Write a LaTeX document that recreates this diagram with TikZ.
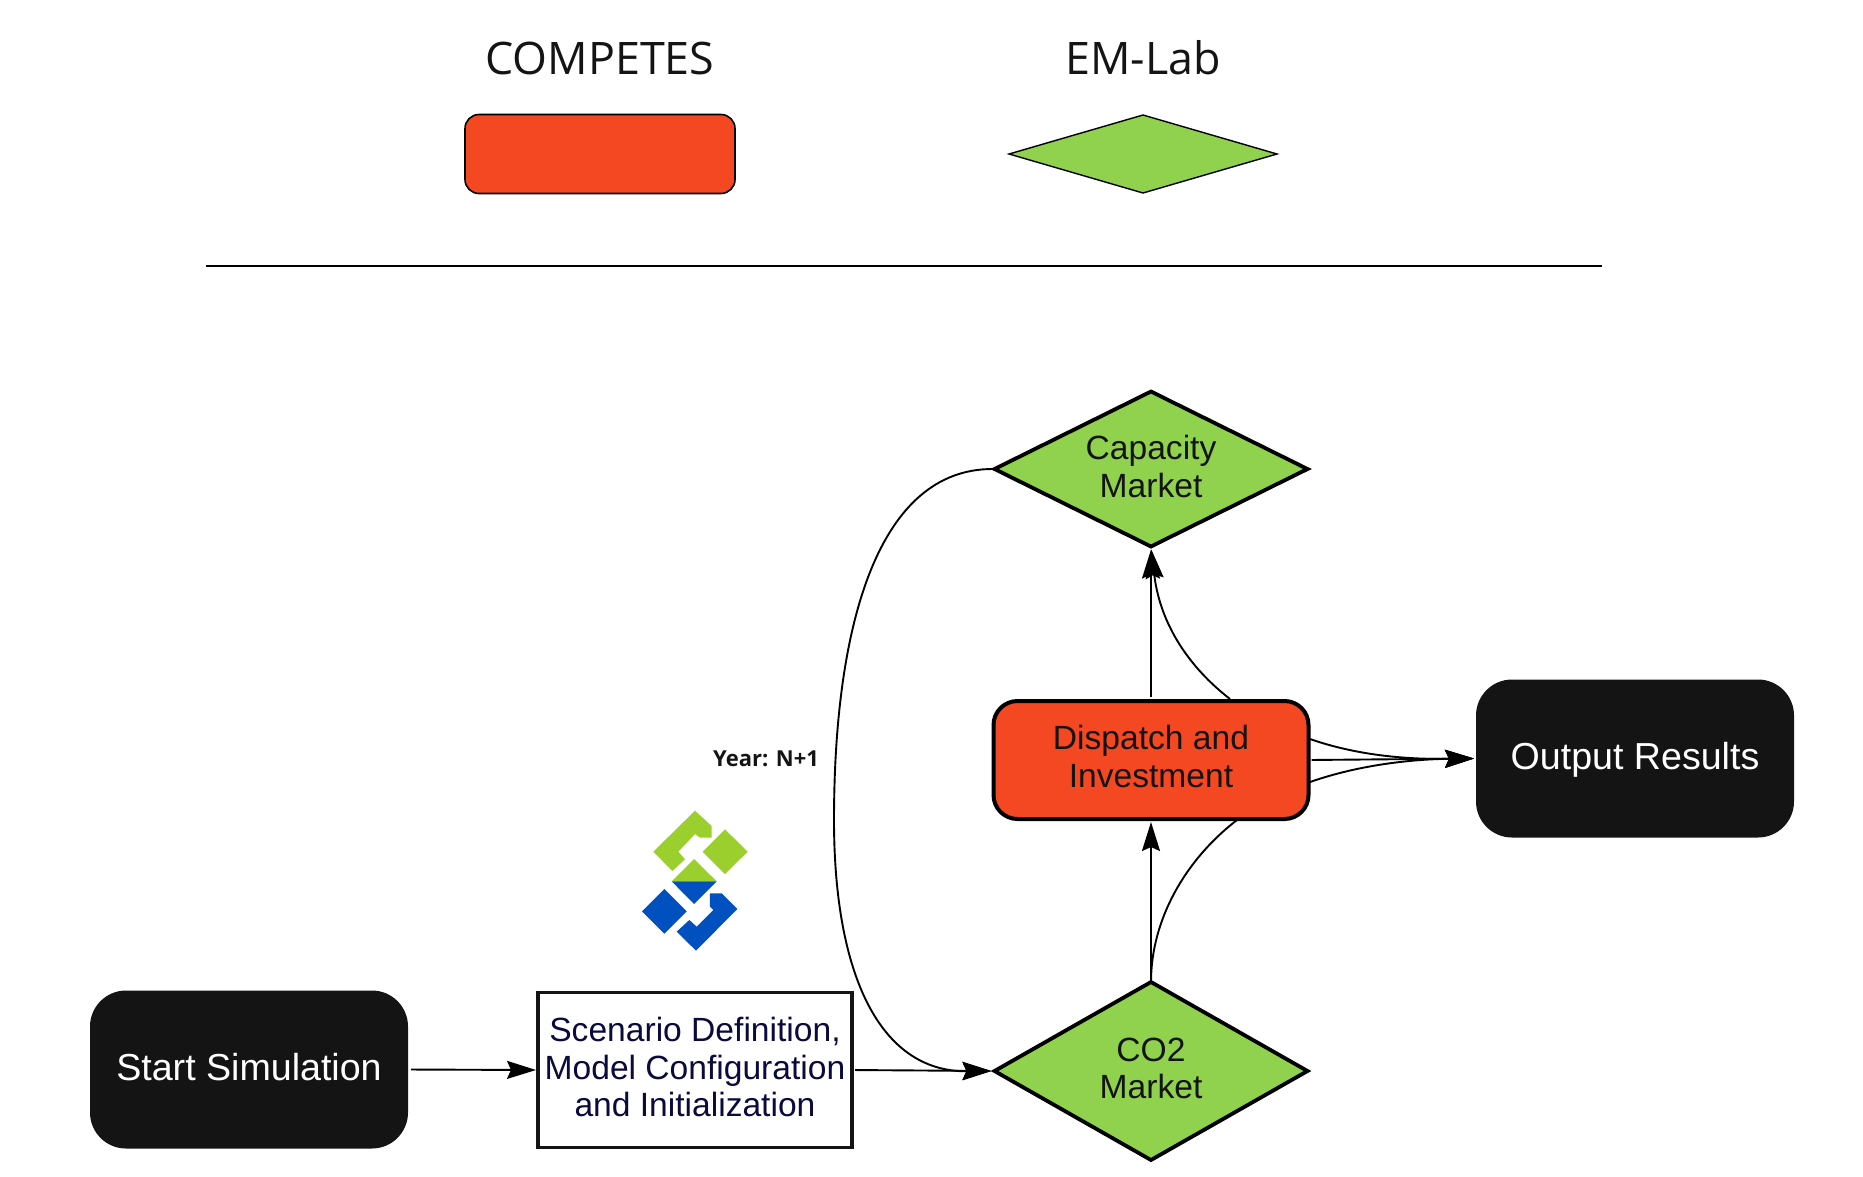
\documentclass[tikz,border=0pt]{standalone}
\usepackage{fontspec}
\setmainfont{Liberation Sans}
\newfontfamily\opensans{Open Sans}
\usetikzlibrary{shapes.geometric,arrows.meta}
\definecolor{redfill}{HTML}{F44822}
\definecolor{greenfill}{HTML}{90D14E}
\definecolor{inkblack}{HTML}{141414}
\definecolor{navytext}{HTML}{0A0A3C}
\definecolor{logogreen}{HTML}{9BCF2E}
\definecolor{logoblue}{HTML}{0050C0}
\newcommand{\upby}[1]{\rule[-#1]{0pt}{#1}}
\tikzset{
  base/.style={inner sep=0pt,outer sep=0pt,align=center,text=inkblack,font=\fontsize{33.6}{37.5}\selectfont},
  legendtitle/.style={inner sep=0pt,text=inkblack,font=\opensans\fontsize{44.8}{48}\selectfont},
  redbox/.style={base,draw=black,line width=4pt,fill=redfill,rounded corners=24pt,minimum width=315pt,minimum height=118pt},
  gdiamond/.style={base,diamond,shape aspect=2,draw=black,line width=3.8pt,fill=greenfill,minimum width=313pt},
  blackbox/.style={base,fill=inkblack,text=white,rounded corners=36pt,minimum width=318pt,minimum height=158pt,font=\fontsize{37.6}{40}\selectfont},
  scenbox/.style={base,draw=inkblack,line width=3.8pt,fill=white,text=navytext,minimum width=314pt,minimum height=155pt},
  link/.style={line width=1.9pt,draw=black},
  arrowlink/.style={link,-{Stealth[length=29pt,width=18pt,inset=4pt]}},
}
\begin{document}
\begin{tikzpicture}[x=1pt,y=-1pt]
\useasboundingbox (0,0) rectangle (1863,1176);
% legend
\node[legendtitle] (lt1) at (600,58) {COMPETES};
\node[legendtitle] (lt2) at (1143,58) {EM-Lab};
\node[base,draw=black,line width=1.6pt,fill=redfill,rounded corners=14pt,minimum width=270pt,minimum height=79pt] (lr) at (600,154) {};
\node[base,diamond,draw=black,line width=1.4pt,fill=greenfill,minimum width=268pt,minimum height=78pt] (ld) at (1143,154) {};
\coordinate (rulea) at (206,266);
\coordinate (ruleb) at (1602,266);
\draw[line width=1.6pt] (rulea) -- (ruleb);
% main nodes
\node[gdiamond,minimum height=155pt] (cap) at (1151,469) {Capacity\\Market\upby{5pt}};
\node[redbox] (disp) at (1151,760) {Dispatch and\\Investment\upby{7pt}};
\node[gdiamond,minimum height=178pt] (co2) at (1151,1071) {CO2\\Market\upby{5pt}};
\node[blackbox] (out) at (1635,758.5) {\rule{0pt}{29.4pt}Output Results};
\node[blackbox] (start) at (249,1069.5) {Start Simulation\upby{4.4pt}};
\node[scenbox] (scen) at (695,1070) {Scenario Definition,\\Model Configuration\\and Initialization\upby{6pt}};
\node[inner sep=0pt,text=inkblack,font=\opensans\bfseries\fontsize{22}{24}\selectfont] (year) at (766,759) {Year: N+1};
% connectors
\draw[arrowlink,shorten <=3pt,shorten >=2pt] (start.east) -- (scen.west);
\draw[arrowlink,shorten <=3pt,shorten >=3pt] (scen.east) -- (co2.west);
\draw[arrowlink,shorten <=2pt,shorten >=3pt] (cap.west) .. controls (880,469) and (834,620) .. (834,820) .. controls (834,975) and (880,1072) .. (co2.west);
\draw[arrowlink,shorten <=4pt,shorten >=3pt] (co2.north) -- (disp.south);
\coordinate (dsr) at (1237,820);
\draw[link] (co2.north) .. controls (1151,920) and (1185,860) .. (dsr);
\draw[arrowlink,shorten <=4pt,shorten >=3pt] (disp.north) -- (cap.south);
\coordinate (dnr) at (1230,699);
\draw[arrowlink,shorten >=3pt] (dnr) .. controls (1190,668) and (1160,625) .. (cap.south);
\draw[arrowlink,shorten <=3pt,shorten >=2pt] (disp.east) -- (out.west);
\coordinate (der1) at (1310,739);
\coordinate (der2) at (1310,782);
\draw[arrowlink,shorten >=2pt] (der1) .. controls (1370,760) and (1430,759) .. (out.west);
\draw[arrowlink,shorten >=2pt] (der2) .. controls (1370,761) and (1430,759) .. (out.west);
% logo
\begin{scope}[shift={(620,790)},x=0.3333pt,y=-0.3333pt]
\fill[logogreen] (225,62) -- (275,108) -- (275,143) -- (240,143) -- (225,132) -- (175,185) -- (195,208) -- (157,243) -- (100,185) -- cycle;
\fill[logogreen] (315,118) -- (383,185) -- (315,252) -- (248,185) -- cycle;
\fill[logogreen] (222,207) -- (290,274) -- (155,274) -- cycle;
\fill[logoblue] (155,274) -- (290,274) -- (222,342) -- cycle;
\fill[logoblue] (133,297) -- (200,364) -- (133,431) -- (66,364) -- cycle;
\fill[logoblue] (270,310) -- (305,310) -- (352,357) -- (228,482) -- (170,425) -- (208,390) -- (230,410) -- (280,360) -- (270,350) -- cycle;
\end{scope}
\end{tikzpicture}
\end{document}
